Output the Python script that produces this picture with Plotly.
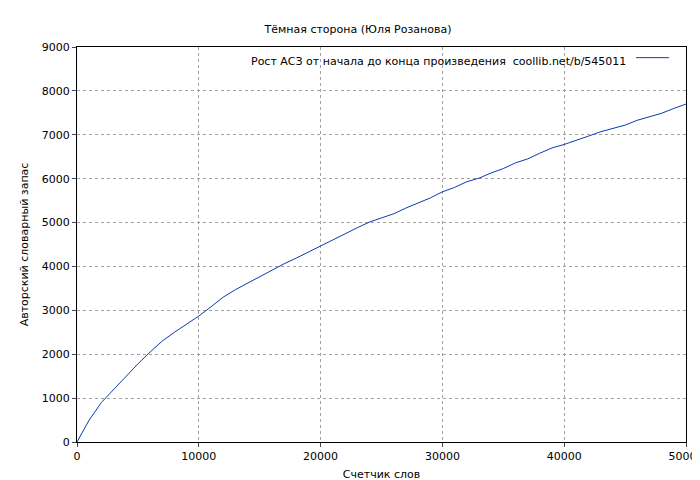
import plotly.graph_objects as go

words = list(range(0, 51000, 1000))
vocab = [0, 500, 900, 1200, 1500, 1780, 2050, 2300, 2500, 2680, 2870, 3080, 3300, 3470, 3620,
         3770, 3910, 4060, 4190, 4330, 4460, 4610, 4750, 4880, 5010, 5100, 5200, 5330, 5450,
         5560, 5700, 5800, 5930, 6010, 6130, 6230, 6360, 6450, 6580, 6700, 6780, 6870, 6970,
         7070, 7150, 7220, 7330, 7410, 7490, 7600, 7700]
title = "Тёмная сторона (Юля Розанова)"
legend_text = "Рост АСЗ от начала до конца произведения  coollib.net/b/545011"

fig = go.Figure(go.Scatter(x=words, y=vocab, mode="lines", line=dict(color="#0a3cb4", width=1),
                           showlegend=False))
ax = dict(showline=True, linecolor="black", mirror=True, ticks="outside", ticklen=4,
          showgrid=True, gridcolor="#a0a0a0", griddash="dot", gridwidth=1, zeroline=False,
          tickfont=dict(size=11, color="black"), tickformat="d", automargin=False)
fig.update_xaxes(range=[0, 50000], dtick=10000,
                 title=dict(text="Счетчик слов", font=dict(size=11), standoff=8), **ax)
fig.update_yaxes(range=[0, 9000], dtick=1000,
                 title=dict(text="Авторский словарный запас", font=dict(size=11), standoff=10), **ax)
fig.update_layout(
    width=700, height=480, paper_bgcolor="white", plot_bgcolor="white",
    font=dict(family="DejaVu Sans", size=11, color="black"),
    margin=dict(l=69, r=22, t=39, b=46),
    title=dict(text=title, x=0.5, xanchor="center", y=0.965, font=dict(size=11)),
    annotations=[dict(xref="paper", yref="paper", x=0.905, y=0.985, xanchor="right", yanchor="top",
                      text=legend_text, showarrow=False, font=dict(size=11))],
    shapes=[dict(type="line", xref="paper", yref="paper", x0=0.918, x1=0.972, y0=0.973, y1=0.973,
                 line=dict(color="#0a3cb4", width=1))],
)
fig.write_html("out.html")
